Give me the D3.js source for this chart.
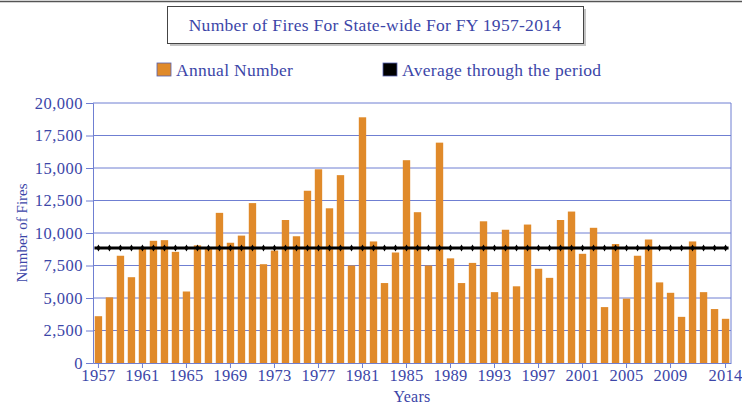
<!DOCTYPE html>
<html lang="en">
<head>
<meta charset="utf-8">
<title>Number of Fires</title>
<script src="https://cdnjs.cloudflare.com/ajax/libs/d3/7.8.5/d3.min.js"></script>
<style>
  body { margin: 0; background: #fff; }
  text { font-family: "Liberation Serif", "DejaVu Serif", serif; }
</style>
</head>
<body>
<script>
// data
var years = d3.range(1957, 2015);
var fires = [
  3600, 5050, 8250, 6600, 8900, 9400, 9450, 8550, 5500, 9050,
  8800, 11550, 9250, 9800, 12300, 7600, 8650, 11000, 9750, 13250,
  14900, 11900, 14450, 7500, 18900, 9350, 6150, 8500, 15600, 11600,
  7500, 16950, 8050, 6150, 7700, 10900, 5450, 10250, 5900, 10650,
  7250, 6550, 11000, 11650, 8400, 10400, 4300, 9150, 4950, 8250,
  9500, 6200, 5400, 3550, 9350, 5450, 4150, 3400
];
var average = 8850;
var tickYears = [1957, 1961, 1965, 1969, 1973, 1977, 1981, 1985, 1989, 1993, 1997, 2001, 2005, 2009, 2014];
var yTicks = [0, 2500, 5000, 7500, 10000, 12500, 15000, 17500, 20000];

var w = 742, h = 406;
var mLeft = 93, mRight = 731, mTop = 103, mBottom = 363;
var blue = "#3c46a8";
var grid = "#6f7fd2";
var orange = "#e08a2a";

var svg = d3.select("body").append("svg")
  .attr("width", w)
  .attr("height", h);

// top rule
svg.append("line")
  .attr("x1", 0).attr("x2", w).attr("y1", 1.5).attr("y2", 1.5)
  .attr("stroke", "#555").attr("stroke-width", 1.5);

// title box with shadow
svg.append("rect")
  .attr("x", 170).attr("y", 9).attr("width", 416).attr("height", 37)
  .attr("fill", "#c4c4c4");
svg.append("rect")
  .attr("x", 167.5).attr("y", 6.5).attr("width", 416).attr("height", 37)
  .attr("fill", "#fff").attr("stroke", "#444").attr("stroke-width", 1);
svg.append("text")
  .attr("x", 375).attr("y", 31)
  .attr("text-anchor", "middle")
  .attr("fill", blue)
  .style("font-size", "17.5px")
  .style("letter-spacing", "0.3px")
  .text("Number of Fires For State-wide For FY 1957-2014");

// legend
var legend = [
  {label: "Annual Number", color: orange, x: 157},
  {label: "Average through the period", color: "#000", x: 383}
];
var lg = svg.selectAll(".legend").data(legend).enter().append("g")
  .attr("transform", function(d) { return "translate(" + d.x + ",63)"; });
lg.append("rect")
  .attr("width", 14).attr("height", 13)
  .attr("fill", function(d) { return d.color; })
  .attr("stroke", "#5560b0").attr("stroke-width", 0.8);
lg.append("text")
  .attr("x", 19).attr("y", 13)
  .attr("fill", blue)
  .style("font-size", "17.5px")
  .style("letter-spacing", "0.3px")
  .text(function(d) { return d.label; });

// scales
var xScale = d3.scaleBand()
  .domain(years)
  .range([mLeft, mRight])
  .paddingInner(0.33)
  .paddingOuter(0.16);

var yScale = d3.scaleLinear()
  .domain([0, 20000])
  .range([mBottom, mTop]);

// gridlines
svg.append("g")
  .selectAll("line")
  .data(yTicks.slice(1))
  .enter().append("line")
  .attr("x1", mLeft).attr("x2", mRight)
  .attr("y1", function(d) { return yScale(d); })
  .attr("y2", function(d) { return yScale(d); })
  .attr("stroke", grid).attr("stroke-width", 1);

// right border
svg.append("line")
  .attr("x1", mRight).attr("x2", mRight).attr("y1", mTop).attr("y2", mBottom)
  .attr("stroke", grid);

// bars
svg.append("g")
  .selectAll("rect")
  .data(fires)
  .enter().append("rect")
  .attr("x", function(d, i) { return xScale(years[i]); })
  .attr("y", function(d) { return yScale(d); })
  .attr("width", xScale.bandwidth())
  .attr("height", function(d) { return mBottom - yScale(d); })
  .attr("fill", orange);

// average line with markers
var cx = function(y) { return xScale(y) + xScale.bandwidth() / 2; };
svg.append("line")
  .attr("x1", cx(years[0]) - 4)
  .attr("x2", cx(years[years.length - 1]) + 3)
  .attr("y1", yScale(average)).attr("y2", yScale(average))
  .attr("stroke", "#000").attr("stroke-width", 3);
svg.append("g")
  .selectAll("path")
  .data(years)
  .enter().append("path")
  .attr("transform", function(d) { return "translate(" + cx(d) + "," + yScale(average) + ")"; })
  .attr("d", d3.symbol().type(d3.symbolDiamond).size(14))
  .attr("fill", "#000");

// y axis
var yAxis = d3.axisLeft(yScale)
  .tickValues(yTicks)
  .tickSize(7)
  .tickFormat(d3.format(","));
var gy = svg.append("g")
  .attr("transform", "translate(" + mLeft + ",0)")
  .call(yAxis);
gy.selectAll("path, line").attr("stroke", grid);
gy.selectAll("text")
  .attr("fill", blue)
  .style("font-size", "16.5px")
  .style("letter-spacing", "0.5px")
  .style("font-family", "'Liberation Serif', serif");

// x axis
var xAxis = d3.axisBottom(xScale)
  .tickValues(tickYears)
  .tickSize(5)
  .tickSizeOuter(0);
var gx = svg.append("g")
  .attr("transform", "translate(0," + mBottom + ")")
  .call(xAxis);
gx.selectAll("path, line").attr("stroke", grid);
gx.selectAll("text")
  .attr("fill", blue)
  .attr("y", 6)
  .attr("dy", "0.71em")
  .style("font-size", "16.5px")
  .style("letter-spacing", "0.3px")
  .style("font-family", "'Liberation Serif', serif");

// axis titles
svg.append("text")
  .attr("x", 412).attr("y", 402)
  .attr("text-anchor", "middle")
  .attr("fill", blue)
  .style("font-size", "16px")
  .style("letter-spacing", "0.3px")
  .text("Years");
svg.append("text")
  .attr("transform", "translate(27,233) rotate(-90)")
  .attr("text-anchor", "middle")
  .attr("fill", blue)
  .style("font-size", "15px")
  .text("Number of Fires");
</script>
</body>
</html>
